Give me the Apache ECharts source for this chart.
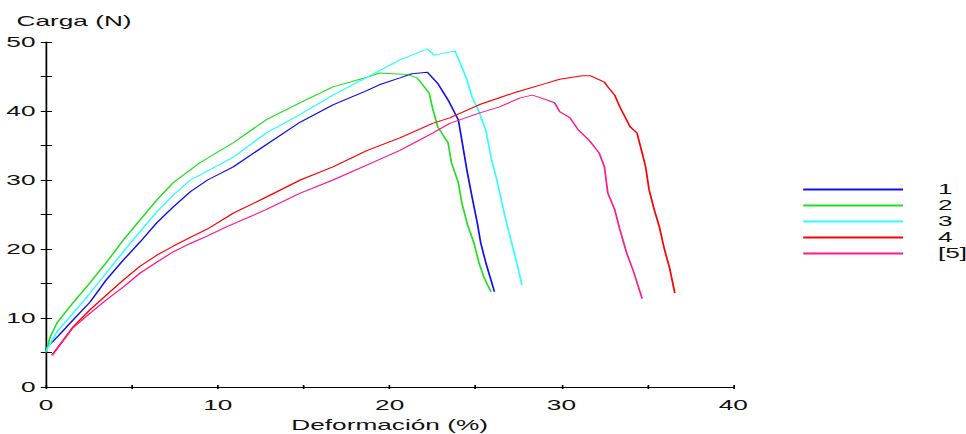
<!DOCTYPE html>
<html>
<head>
<meta charset="utf-8">
<title>Carga vs Deformación</title>
<script src="https://cdn.jsdelivr.net/npm/echarts@6/dist/echarts.min.js"></script>
<style>
  html, body { margin: 0; padding: 0; background: #fff; overflow: hidden; }
  /* the original picture is stretched horizontally, so the chart is drawn narrow and scaled */
  #chart { width: 552px; height: 434px; transform: scaleX(1.75); transform-origin: 0 0; }
</style>
</head>
<body>
<div id="chart"></div>
<script>
const seriesNames = ['1', '2', '3', '4', '[5]']
const seriesColors = ['#1010f0', '#20e020', '#30ffff', '#ff0000', '#ff1a8c']

const xTickLabels = [0, 10, 20, 30, 40]
const yTickLabels = [0, 10, 20, 30, 40, 50]

// probeta 1
const def1 = [0, 0.06, 0.64, 1.57, 2.56, 3.5, 4.5, 5.47, 6.45, 7.4, 8.4, 9.4, 10.9, 12.8, 14.8, 16.7, 18.7, 19.4, 20.6, 21.3, 22.2, 22.8, 23.4, 24.0, 24.2, 24.5, 24.8, 25.1, 25.3, 25.6, 25.9, 26.1]
const carga1 = [5.2, 5.8, 7.2, 9.7, 12.3, 15.5, 18.4, 21.0, 23.8, 26.1, 28.3, 30.0, 31.9, 35.1, 38.4, 40.9, 43.0, 43.8, 44.8, 45.4, 45.6, 44.0, 41.6, 38.7, 35.8, 31.4, 27.5, 23.8, 20.9, 18.0, 15.5, 13.8]

// probeta 2
const def2 = [0, 0.23, 0.64, 1.57, 2.56, 3.5, 4.5, 5.47, 6.45, 7.4, 8.95, 10.9, 12.8, 14.8, 16.7, 18.7, 19.4, 21.0, 21.6, 22.3, 22.5, 22.8, 23.4, 23.6, 24.0, 24.2, 24.5, 24.9, 25.2, 25.5, 25.9]
const carga2 = [5.0, 7.2, 9.3, 12.2, 15.1, 18.0, 21.3, 24.2, 27.1, 29.6, 32.5, 35.4, 38.7, 41.2, 43.5, 44.9, 45.5, 45.3, 44.8, 42.6, 40.4, 37.7, 35.4, 32.5, 29.6, 26.7, 23.8, 20.9, 18.0, 15.8, 13.8]

// probeta 3
const def3 = [0, 0.64, 1.57, 2.56, 3.5, 4.5, 5.47, 6.45, 7.4, 8.4, 8.95, 10.9, 12.8, 14.8, 16.7, 18.7, 20.6, 22.2, 22.6, 23.8, 24.2, 24.5, 24.8, 25.2, 25.6, 25.9, 26.2, 26.5, 26.8, 27.1, 27.4, 27.7]
const carga3 = [5.2, 8.0, 10.7, 13.6, 16.5, 19.6, 22.5, 25.4, 27.8, 30.0, 30.7, 33.3, 36.8, 39.5, 42.3, 44.9, 47.4, 49.0, 48.1, 48.7, 46.4, 44.5, 42.0, 39.9, 37.2, 33.3, 30.4, 27.1, 23.8, 20.9, 18.0, 14.8]

// probeta 4
const def4 = [0.35, 1.57, 2.56, 3.5, 4.5, 5.47, 6.45, 7.4, 8.4, 9.4, 10.9, 12.8, 14.8, 16.7, 18.7, 20.6, 22.5, 23.5, 25.2, 27.2, 29.1, 29.9, 31.2, 31.7, 32.5, 32.7, 33.1, 33.4, 34.0, 34.4, 34.7, 34.9, 35.1, 35.4, 35.7, 36.0, 36.3, 36.6]
const carga4 = [4.6, 8.7, 11.2, 13.3, 15.5, 17.5, 19.1, 20.4, 21.7, 22.9, 25.2, 27.5, 30.0, 31.9, 34.3, 36.1, 38.2, 39.0, 40.9, 42.6, 44.0, 44.6, 45.1, 45.1, 44.2, 43.5, 42.3, 40.6, 37.7, 36.8, 33.9, 31.9, 28.6, 25.7, 23.2, 19.9, 17.2, 13.6]

// probeta 5
const def5 = [0.35, 1.57, 2.56, 3.5, 4.5, 5.47, 6.45, 7.4, 8.4, 9.4, 10.5, 12.8, 14.8, 16.7, 18.7, 20.6, 22.5, 23.5, 25.2, 26.4, 27.6, 28.3, 28.8, 29.6, 29.9, 30.5, 31.0, 31.6, 32.2, 32.5, 32.7, 33.1, 33.4, 33.8, 34.2, 34.7]
const carga5 = [4.6, 8.6, 10.7, 12.6, 14.5, 16.5, 18.1, 19.6, 20.8, 21.9, 23.2, 25.7, 28.1, 30.0, 32.2, 34.3, 36.8, 38.2, 39.7, 40.6, 41.9, 42.3, 41.9, 41.2, 39.9, 39.0, 37.2, 35.8, 33.9, 31.9, 28.1, 25.7, 22.8, 19.4, 16.7, 12.8]

const defs = [def1, def2, def3, def4, def5]
const cargas = [carga1, carga2, carga3, carga4, carga5]

const chart = echarts.init(document.getElementById('chart'), null, { renderer: 'svg' })

const font = { fontFamily: 'Liberation Sans, Arial, sans-serif', fontSize: 15, color: '#111' }

const series = seriesNames.map((name, i) => ({
  name: name,
  type: 'line',
  data: defs[i].map((x, k) => [x, cargas[i][k]]),
  symbol: 'none',
  lineStyle: { color: seriesColors[i], width: 1 },
  itemStyle: { color: seriesColors[i] }
}))

const option = {
  animation: false,
  backgroundColor: '#fff',
  grid: { left: 26.3, right: 133, top: 42, bottom: 47, containLabel: false, outerBoundsMode: 'none' },
  legend: {
    orient: 'vertical',
    left: 454,
    top: 177,
    icon: 'rect',
    itemWidth: 57,
    itemHeight: 2,
    itemGap: 1,
    data: seriesNames,
    textStyle: Object.assign({}, font, { lineHeight: 14, padding: [0, 0, 0, 15] })
  },
  xAxis: [
    {
      type: 'value',
      min: 0,
      max: 40,
      interval: 5,
      name: 'Deformación (%)',
      nameLocation: 'middle',
      nameGap: 31,
      nameTextStyle: Object.assign({}, font, { lineHeight: 15 }),
      axisLine: { lineStyle: { color: '#000', width: 1 } },
      axisTick: { length: 2, lineStyle: { color: '#000' } },
      axisLabel: Object.assign({}, font, {
        margin: 11,
        formatter: v => (xTickLabels.includes(v) ? String(v) : '')
      }),
      splitLine: { show: false }
    },
    {
      type: 'value',
      position: 'bottom',
      min: 0,
      max: 40,
      interval: 5,
      axisLine: { show: false },
      axisTick: { inside: true, length: 2, lineStyle: { color: '#000' } },
      axisLabel: { show: false },
      splitLine: { show: false }
    }
  ],
  yAxis: [
    {
      type: 'value',
      min: 0,
      max: 50,
      interval: 5,
      name: 'Carga (N)',
      nameLocation: 'end',
      nameGap: 13,
      nameTextStyle: Object.assign({}, font, { align: 'center', padding: [0, 0, 0, 32] }),
      axisLine: { lineStyle: { color: '#000', width: 1 } },
      axisTick: { length: 3, lineStyle: { color: '#000' } },
      axisLabel: Object.assign({}, font, {
        margin: 6,
        formatter: v => (yTickLabels.includes(v) ? String(v) : '')
      }),
      splitLine: { show: false }
    },
    {
      type: 'value',
      position: 'left',
      min: 0,
      max: 50,
      interval: 5,
      axisLine: { show: false },
      axisTick: { inside: true, length: 3.4, lineStyle: { color: '#000' } },
      axisLabel: { show: false },
      splitLine: { show: false }
    }
  ],
  series: series
}

chart.setOption(option)
</script>
</body>
</html>
